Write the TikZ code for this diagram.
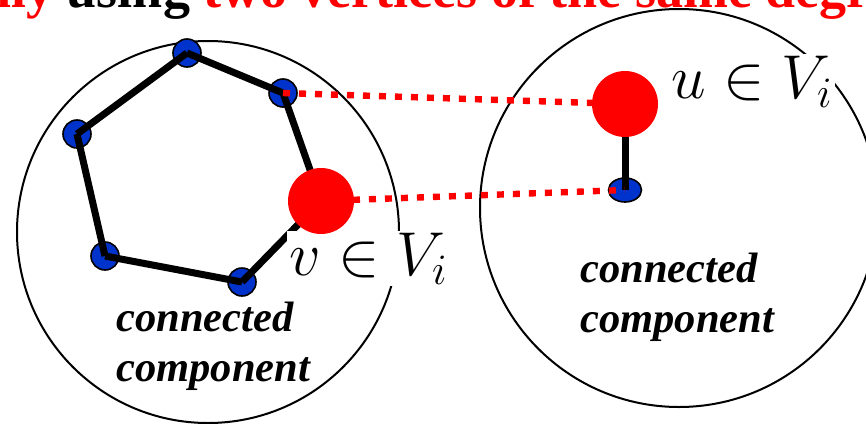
\RequirePackage{fix-cm}
\documentclass[tikz,border=0pt]{standalone}
\usepackage{fontspec}
\setmainfont{Liberation Serif}
\usetikzlibrary{shapes.geometric}
\definecolor{dotblue}{RGB}{0,51,204}

\begin{document}
\begin{tikzpicture}[
    x=0.5pt, y=-0.5pt,
    comp/.style={circle, draw, line width=1pt, inner sep=0pt},
    vtx/.style={circle, draw, fill=dotblue, line width=0.8pt, minimum size=14pt, inner sep=0pt},
    big/.style={circle, fill=red, minimum size=33pt, inner sep=0pt},
    edge/.style={line width=3.5pt},
    link/.style={red, line width=3.2pt, dash pattern=on 3.5pt off 4.5pt},
    elem/.style={fill=white, inner sep=1pt, font=\fontsize{31}{31}\selectfont},
    cc/.style={align=left, inner sep=0pt, font=\fontsize{21.25}{25}\selectfont\bfseries\itshape}
]
\useasboundingbox (0,0) rectangle (866,423);
\clip (0,0) rectangle (866,423);

% Title line, cut by the frame
\node[anchor=base west, inner sep=0pt, font=\fontsize{27}{27}\selectfont\bfseries] (title) at (-46,7)
    {\textcolor{red}{only} using \textcolor{red}{two vertices of the same degree}};

% Components
\node[comp, minimum size=191pt] (compL) at (208,232) {};
\node[comp, minimum size=199pt] (compR) at (679,208) {};

% Vertices
\node[vtx] (a0) at (77,134) {};
\node[vtx] (a1) at (187,53) {};
\node[vtx] (a2) at (283,93) {};
\node[vtx] (a3) at (242,282) {};
\node[vtx] (a4) at (105,256) {};
\node[vtx, ellipse, minimum width=16.5pt, minimum height=12pt] (w) at (625,190) {};
\coordinate (pv) at (321,201);
\coordinate (pu) at (625,104);

% Edges
\draw[edge] (a0.center) -- (a1.center);
\draw[edge] (a1.center) -- (a2.center);
\draw[edge] (a2.center) -- (pv);
\draw[edge] (pv) -- (a3.center);
\draw[edge] (a3.center) -- (a4.center);
\draw[edge] (a4.center) -- (a0.center);
\draw[edge] (pu) -- (w.center);

% Links between the two components
\draw[link] (a2.center) -- (pu);
\draw[link] (pv) -- (w.center);

% Labels
\node[elem, anchor=base west] (vlab) at (287,275) {$v\in V_i$};
\node[elem, anchor=base west] (ulab) at (669,98) {$u\in V_i$};

% Red vertices
\node[big] (v) at (pv) {};
\node[big] (u) at (pu) {};

% Captions
\node[cc, anchor=north west] (capL) at (116,302) {connected\\component};
\node[cc, anchor=north west] (capR) at (580,253) {connected\\component};
\end{tikzpicture}
\end{document}
